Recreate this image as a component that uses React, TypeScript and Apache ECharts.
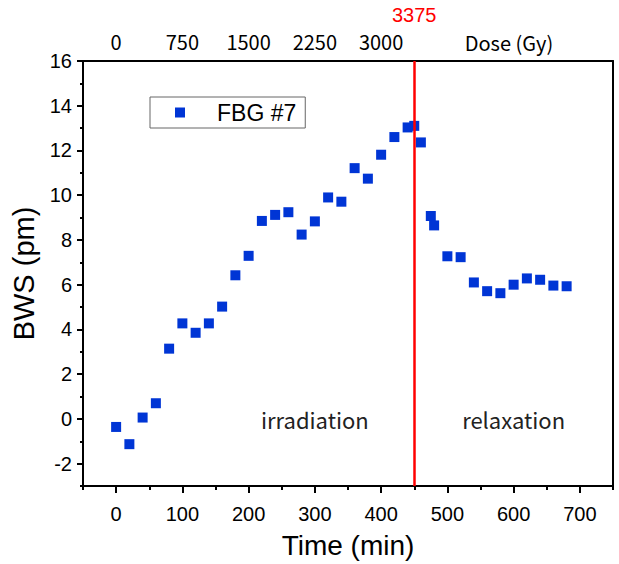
import React, { useEffect, useRef } from "react";
import * as echarts from "echarts";

// ---- data ----
const timeMin = [0, 20, 40, 60, 80, 100, 120, 140, 160, 180, 200, 220, 240, 260, 280, 300, 320, 340, 360, 380, 400, 420, 440, 450, 460, 475, 480, 500, 520, 540, 560, 580, 600, 620, 640, 660, 680];
const bwsPm = [-0.36, -1.13, 0.06, 0.7, 3.14, 4.27, 3.85, 4.27, 5.02, 6.42, 7.29, 8.85, 9.12, 9.24, 8.24, 8.83, 9.9, 9.71, 11.21, 10.74, 11.81, 12.6, 13.03, 13.1, 12.36, 9.07, 8.65, 7.27, 7.23, 6.1, 5.71, 5.62, 6.0, 6.28, 6.22, 5.96, 5.93];

const timeTicks = [0, 100, 200, 300, 400, 500, 600, 700];
const timeMinorTicks = [-50, 50, 150, 250, 350, 450, 550, 650, 750];
const bwsTicks = [-2, 0, 2, 4, 6, 8, 10, 12, 14, 16];
const bwsMinorTicks = [-3, -1, 1, 3, 5, 7, 9, 11, 13, 15];
const doseTicks = [0, 750, 1500, 2250, 3000];
const doseRateGyPerMin = 7.5;
const irradiationEndTime = 450;
const irradiationEndDose = 3375;
const phaseNames = ["irradiation", "relaxation"];
const phaseTimes = [300, 600];
const phaseBws = [0, 0];
const seriesName = "FBG #7";

const timeRange = [-50, 750];
const bwsRange = [-3, 16];

const LABEL_FONT = "'Liberation Sans', Arial, sans-serif";
const CJK_FONT = "'Noto Sans CJK SC', 'Noto Sans', sans-serif";
const BLUE = "#0035D5";

export default function App() {
  const ref = useRef<HTMLDivElement>(null);
  useEffect(() => {
    if (!ref.current) return;
    const chart = echarts.init(ref.current, undefined, { renderer: "svg" });
    const axisLine = { show: true, onZero: false, lineStyle: { color: "#000", width: 2 } };
    const hiddenLine = { show: false, onZero: false };
    chart.setOption({
      animation: false,
      backgroundColor: "#fff",
      grid: { left: 83, right: 6, top: 61, bottom: 77 },
      legend: {
        data: [seriesName],
        left: 150,
        top: 97,
        padding: [4, 9, 4, 25],
        borderColor: "#666",
        borderWidth: 1,
        itemWidth: 10,
        itemHeight: 10,
        icon: "rect",
        textStyle: { fontSize: 23, color: "#000", fontFamily: LABEL_FONT, padding: [0, 0, 0, 27] },
      },
      xAxis: [
        {
          type: "value",
          position: "bottom",
          min: timeRange[0],
          max: timeRange[1],
          name: "Time (min)",
          nameLocation: "middle",
          nameGap: 45,
          nameTextStyle: { fontSize: 28, color: "#000", fontFamily: LABEL_FONT },
          axisLine,
          axisTick: { show: true, inside: false, length: 7, customValues: timeTicks, lineStyle: { color: "#000", width: 2 } },
          axisLabel: { customValues: timeTicks, fontSize: 20, color: "#000", margin: 18, fontFamily: LABEL_FONT },
          splitLine: { show: false },
        },
        {
          type: "value",
          position: "bottom",
          min: timeRange[0],
          max: timeRange[1],
          axisLine: hiddenLine,
          axisTick: { show: true, length: 4, customValues: timeMinorTicks, lineStyle: { color: "#000", width: 2 } },
          axisLabel: { show: false },
          splitLine: { show: false },
        },
        {
          type: "value",
          position: "top",
          min: timeRange[0] * doseRateGyPerMin,
          max: timeRange[1] * doseRateGyPerMin,
          axisLine,
          axisTick: { show: false },
          axisLabel: {
            customValues: doseTicks,
            formatter: (v: number) => String(v),
            fontSize: 20,
            color: "#000",
            margin: 10,
            fontFamily: CJK_FONT,
          },
          splitLine: { show: false },
        },
      ],
      yAxis: [
        {
          type: "value",
          position: "left",
          min: bwsRange[0],
          max: bwsRange[1],
          name: "BWS (pm)",
          nameLocation: "middle",
          nameGap: 36,
          nameTextStyle: { fontSize: 29, color: "#000", fontFamily: LABEL_FONT },
          axisLine,
          axisTick: { show: true, length: 6, customValues: bwsTicks, lineStyle: { color: "#000", width: 2 } },
          axisLabel: { customValues: bwsTicks, fontSize: 20, color: "#000", margin: 11, fontFamily: LABEL_FONT },
          splitLine: { show: false },
        },
        {
          type: "value",
          position: "left",
          min: bwsRange[0],
          max: bwsRange[1],
          axisLine: hiddenLine,
          axisTick: { show: true, length: 3, customValues: bwsMinorTicks, lineStyle: { color: "#000", width: 2 } },
          axisLabel: { show: false },
          splitLine: { show: false },
        },
        {
          type: "value",
          position: "right",
          min: bwsRange[0],
          max: bwsRange[1],
          axisLine,
          axisTick: { show: false },
          axisLabel: { show: false },
          splitLine: { show: false },
        },
      ],
      graphic: [
        {
          type: "text",
          x: 509,
          y: 42,
          style: {
            text: "Dose (Gy)",
            fill: "#000",
            fontSize: 20,
            fontFamily: CJK_FONT,
            textAlign: "center",
            textVerticalAlign: "middle",
          },
        },
      ],
      series: [
        {
          name: seriesName,
          type: "scatter",
          xAxisIndex: 0,
          yAxisIndex: 0,
          symbol: "rect",
          symbolSize: 10,
          clip: false,
          itemStyle: { color: BLUE, opacity: 1 },
          data: timeMin.map((t, i) => [t, bwsPm[i]]),
          markLine: {
            silent: true,
            symbol: "none",
            lineStyle: { color: "#ff0000", width: 2.5, type: "solid", opacity: 1 },
            label: {
              show: true,
              position: "end",
              formatter: String(irradiationEndDose),
              color: "#ff0000",
              fontSize: 20,
              fontFamily: LABEL_FONT,
              distance: 36,
            },
            data: [{ xAxis: irradiationEndTime }],
          },
          markPoint: {
            silent: true,
            symbol: "rect",
            symbolSize: 0,
            label: {
              show: true,
              position: "inside",
              formatter: (p: any) => p.name,
              color: "#222",
              fontSize: 22,
              fontFamily: CJK_FONT,
            },
            data: phaseNames.map((n, i) => ({ name: n, coord: [phaseTimes[i], phaseBws[i]] })),
          },
        },
      ],
    });
    return () => chart.dispose();
  }, []);
  return <div ref={ref} style={{ position: "fixed", left: 0, top: 0, width: 619, height: 564 }} />;
}
